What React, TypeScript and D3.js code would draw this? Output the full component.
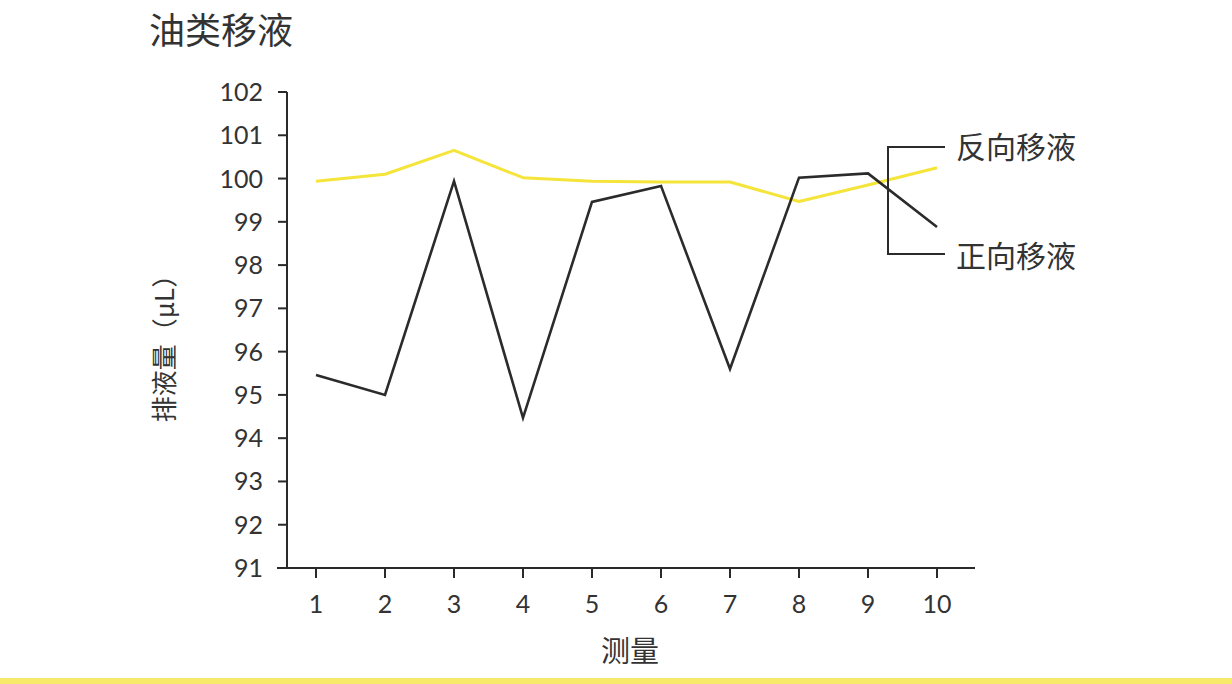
import { useEffect, useRef } from 'react'
import * as d3 from 'd3'

const measurements = [1, 2, 3, 4, 5, 6, 7, 8, 9, 10]
const reverseValues = [99.94, 100.1, 100.65, 100.02, 99.94, 99.92, 99.92, 99.47, 99.85, 100.25]
const forwardValues = [95.46, 95.0, 99.94, 94.47, 99.46, 99.83, 95.6, 100.02, 100.12, 98.88]
const yTicks = [91, 92, 93, 94, 95, 96, 97, 98, 99, 100, 101, 102]
const seriesNames = ['反向移液', '正向移液']

const W = 1232
const H = 684
const FONT = '"Noto Sans CJK SC", "Noto Sans", sans-serif'
const NUM_FONT = 'Lato, "Noto Sans", sans-serif'
const TEXT = '#333333'

export default function App() {
  const svgRef = useRef<SVGSVGElement>(null)

  useEffect(() => {
    if (!svgRef.current) return
    const svg = d3.select(svgRef.current)
    svg.selectAll('*').remove()

    const x = d3.scaleLinear().domain([1, 10]).range([316, 937])
    const y = d3.scaleLinear().domain([91, 102]).range([568, 92])
    const axisLeft = 287
    const axisRight = 975

    // title
    svg.append('text')
      .attr('x', 149).attr('y', 44)
      .style('font-family', FONT).style('font-size', '36px').style('fill', TEXT)
      .text('油类移液')

    // y axis
    const ya = svg.append('g')
    ya.append('line')
      .attr('x1', axisLeft).attr('x2', axisLeft)
      .attr('y1', y(102)).attr('y2', y(91))
      .attr('stroke', '#2a2a2a').attr('stroke-width', 2)
    yTicks.forEach(t => {
      ya.append('line')
        .attr('x1', axisLeft - 9).attr('x2', axisLeft)
        .attr('y1', y(t)).attr('y2', y(t))
        .attr('stroke', '#2a2a2a').attr('stroke-width', 2)
      ya.append('text')
        .attr('x', axisLeft - 24).attr('y', y(t)).attr('dy', '0.36em')
        .attr('text-anchor', 'end')
        .style('font-family', NUM_FONT).style('font-size', '25px').style('fill', TEXT)
        .text(t)
    })

    // x axis
    const xa = svg.append('g')
    xa.append('line')
      .attr('x1', axisLeft - 10).attr('x2', axisRight)
      .attr('y1', y(91)).attr('y2', y(91))
      .attr('stroke', '#2a2a2a').attr('stroke-width', 2)
    measurements.forEach(m => {
      xa.append('line')
        .attr('x1', x(m)).attr('x2', x(m))
        .attr('y1', y(91)).attr('y2', y(91) + 10)
        .attr('stroke', '#2a2a2a').attr('stroke-width', 2)
      xa.append('text')
        .attr('x', x(m)).attr('y', 613)
        .attr('text-anchor', 'middle')
        .style('font-family', NUM_FONT).style('font-size', '25px').style('fill', TEXT)
        .text(m)
    })

    // axis labels
    svg.append('text')
      .attr('x', 630).attr('y', 662)
      .attr('text-anchor', 'middle')
      .style('font-family', FONT).style('font-size', '29px').style('fill', TEXT)
      .text('测量')
    svg.append('text')
      .attr('transform', `translate(174, ${342}) rotate(-90)`)
      .attr('text-anchor', 'middle')
      .style('font-family', FONT).style('font-size', '26px').style('fill', TEXT)
      .text('排液量（μL）')

    const line = d3.line<number>()
      .x((_, i) => x(measurements[i]))
      .y(d => y(d))

    svg.append('path')
      .datum(reverseValues)
      .attr('d', line)
      .attr('fill', 'none')
      .attr('stroke', '#f5e43a')
      .attr('stroke-width', 3)
      .attr('stroke-linejoin', 'round')

    svg.append('path')
      .datum(forwardValues)
      .attr('d', line)
      .attr('fill', 'none')
      .attr('stroke', '#2b2b2b')
      .attr('stroke-width', 2.6)

    // legend bracket
    const lg = svg.append('g')
    const ly1 = 147
    const ly2 = 254
    lg.append('path')
      .attr('d', `M945,${ly1} H888 V${ly2} H945`)
      .attr('fill', 'none')
      .attr('stroke', '#2b2b2b')
      .attr('stroke-width', 2)
    ;[ly1, ly2 + 2].forEach((ly, i) => {
      lg.append('text')
        .attr('x', 956).attr('y', ly).attr('dy', '0.35em')
        .style('font-family', FONT).style('font-size', '30px').style('fill', TEXT)
        .text(seriesNames[i])
    })

    // bottom rule
    svg.append('rect')
      .attr('x', 0).attr('y', 678).attr('width', W).attr('height', 6)
      .attr('fill', '#f7e96a')
  }, [])

  return (
    <svg
      ref={svgRef}
      width={W}
      height={H}
      style={{ position: 'absolute', left: 0, top: 0, background: '#fff' }}
    />
  )
}
